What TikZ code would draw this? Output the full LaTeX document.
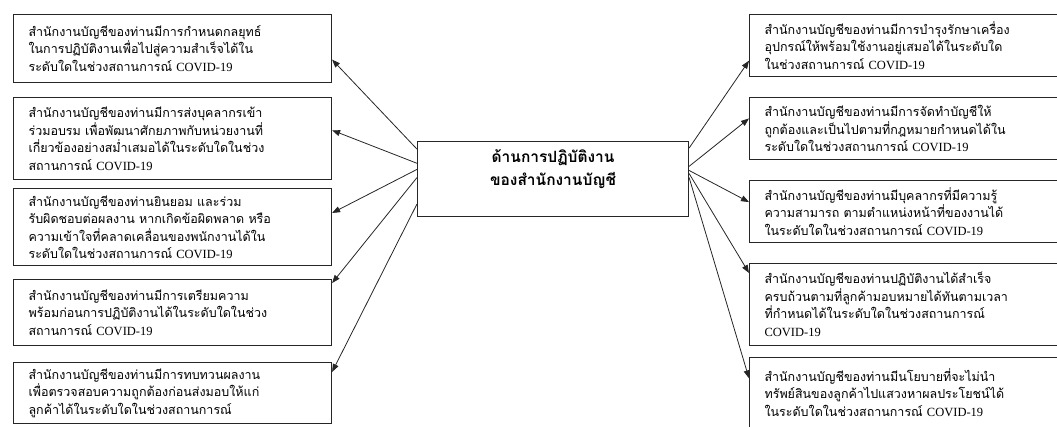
\documentclass[tikz,border=0pt]{standalone}
\usepackage{fontspec}
\setmainfont{Liberation Serif}
\newfontfamily\thaifont[Script=Thai]{Loma}
\usetikzlibrary{arrows.meta,calc}
\newcommand{\cvd}{{\rmfamily COVID-19}}
\begin{document}
\begin{tikzpicture}[x=1pt,y=-1pt,
  qbox/.style={draw=black!85, line width=1.1pt, anchor=north west, minimum width=318pt,
    text width=288pt, inner xsep=15pt, inner ysep=0pt, align=left,
    font=\thaifont\fontsize{12.5}{17.5}\selectfont},
  cbox/.style={draw=black!85, line width=1.1pt, anchor=north west, minimum width=271pt,
    minimum height=75pt, align=center, inner sep=0pt,
    font=\thaifont\bfseries\fontsize{15.5}{23}\selectfont},
  arr/.style={draw=black!85, line width=0.8pt, -{Triangle[length=8pt,width=6pt]}}]
\useasboundingbox (0,0) rectangle (1057,426);

\node[cbox] (c) at (417,141) {ด้านการปฏิบัติงาน\\ของสำนักงานบัญชี\\ \mbox{}};

\node[qbox, minimum height=68pt] (l1) at (13,14) {สำนักงานบัญชีของท่านมีการกำหนดกลยุทธ์\\ในการปฏิบัติงานเพื่อไปสู่ความสำเร็จได้ใน\\ระดับใดในช่วงสถานการณ์ \cvd};
\node[qbox, minimum height=82pt] (l2) at (13,97) {สำนักงานบัญชีของท่านมีการส่งบุคลากรเข้า\\ร่วมอบรม เพื่อพัฒนาศักยภาพกับหน่วยงานที่\\เกี่ยวข้องอย่างสม่ำเสมอได้ในระดับใดในช่วง\\สถานการณ์ \cvd};
\node[qbox, minimum height=77pt] (l3) at (13,188) {สำนักงานบัญชีของท่านยินยอม และร่วม\\รับผิดชอบต่อผลงาน หากเกิดข้อผิดพลาด หรือ\\ความเข้าใจที่คลาดเคลื่อนของพนักงานได้ใน\\ระดับใดในช่วงสถานการณ์ \cvd};
\node[qbox, minimum height=66pt] (l4) at (13,279) {สำนักงานบัญชีของท่านมีการเตรียมความ\\พร้อมก่อนการปฏิบัติงานได้ในระดับใดในช่วง\\สถานการณ์ \cvd};
\node[qbox, minimum height=61pt] (l5) at (13,362) {สำนักงานบัญชีของท่านมีการทบทวนผลงาน\\เพื่อตรวจสอบความถูกต้องก่อนส่งมอบให้แก่\\ลูกค้าได้ในระดับใดในช่วงสถานการณ์};

\node[qbox, minimum height=62pt] (r1) at (749,14) {สำนักงานบัญชีของท่านมีการบำรุงรักษาเครื่อง\\อุปกรณ์ให้พร้อมใช้งานอยู่เสมอได้ในระดับใด\\ในช่วงสถานการณ์ \cvd};
\node[qbox, minimum height=62pt] (r2) at (749,97) {สำนักงานบัญชีของท่านมีการจัดทำบัญชีให้\\ถูกต้องและเป็นไปตามที่กฎหมายกำหนดได้ใน\\ระดับใดในช่วงสถานการณ์ \cvd};
\node[qbox, minimum height=62pt] (r3) at (749,180) {สำนักงานบัญชีของท่านมีบุคลากรที่มีความรู้\\ความสามารถ ตามตำแหน่งหน้าที่ของงานได้\\ในระดับใดในช่วงสถานการณ์ \cvd};
\node[qbox, minimum height=82pt] (r4) at (749,263) {สำนักงานบัญชีของท่านปฏิบัติงานได้สำเร็จ\\ครบถ้วนตามที่ลูกค้ามอบหมายได้ทันตามเวลา\\ที่กำหนดได้ในระดับใดในช่วงสถานการณ์\\\cvd};
\node[qbox, minimum height=70pt] (r5) at (749,357) {สำนักงานบัญชีของท่านมีนโยบายที่จะไม่นำ\\ทรัพย์สินของลูกค้าไปแสวงหาผลประโยชน์ได้\\ในระดับใดในช่วงสถานการณ์ \cvd};

\draw[arr] ($(c.north west)!0.107!(c.south west)$) -- ($(l1.north east)!0.66!(l1.south east)$);
\draw[arr] ($(c.north west)!0.293!(c.south west)$) -- ($(l2.north east)!0.40!(l2.south east)$);
\draw[arr] ($(c.north west)!0.373!(c.south west)$) -- ($(l3.north east)!0.32!(l3.south east)$);
\draw[arr] ($(c.north west)!0.48!(c.south west)$) -- ($(l4.north east)!0.06!(l4.south east)$);
\draw[arr] ($(c.north west)!0.827!(c.south west)$) -- ($(l5.north east)!0.16!(l5.south east)$);

\draw[arr] ($(c.north east)!0.093!(c.south east)$) -- ($(r1.north west)!0.74!(r1.south west)$);
\draw[arr] ($(c.north east)!0.333!(c.south east)$) -- ($(r2.north west)!0.34!(r2.south west)$);
\draw[arr] ($(c.north east)!0.387!(c.south east)$) -- ($(r3.north west)!0.35!(r3.south west)$);
\draw[arr] ($(c.north east)!0.427!(c.south east)$) -- ($(r4.north west)!0.12!(r4.south west)$);
\draw[arr] ($(c.north east)!0.48!(c.south east)$) -- ($(r5.north west)!0.30!(r5.south west)$);
\end{tikzpicture}
\end{document}
